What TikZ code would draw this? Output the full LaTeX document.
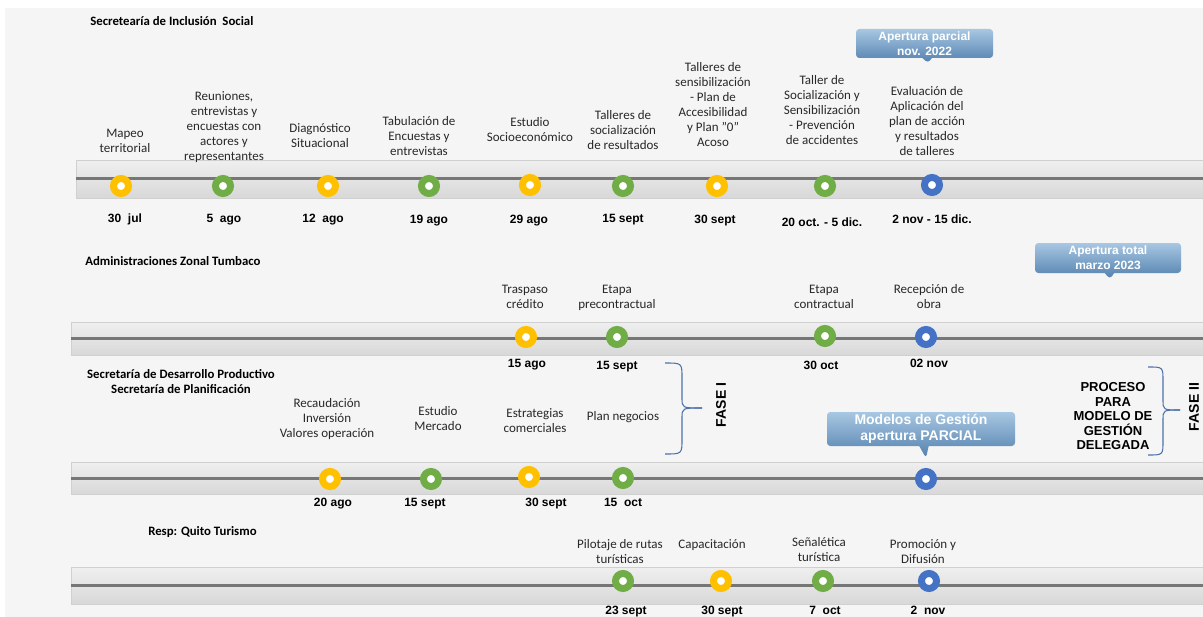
\documentclass[tikz,border=0pt]{standalone}
\usepackage{fontspec}
\setmainfont{Carlito}
\newfontfamily\arialf{Liberation Sans}
\definecolor{bgc}{RGB}{245,245,245}
\definecolor{bandtop}{RGB}{239,239,239}
\definecolor{bandbot}{RGB}{216,216,216}
\definecolor{bandedge}{RGB}{208,208,208}
\definecolor{linec}{RGB}{118,118,118}
\definecolor{yel}{RGB}{255,192,0}
\definecolor{grn}{RGB}{112,173,71}
\definecolor{blu}{RGB}{68,114,196}
\definecolor{cltop}{RGB}{168,199,226}
\definecolor{clbot}{RGB}{82,128,174}
\definecolor{brc}{RGB}{79,114,170}
\definecolor{labtxt}{RGB}{40,40,40}
\usepackage{tikz}
\usetikzlibrary{shapes.callouts}

\begin{document}
\begin{tikzpicture}[x=0.75pt,y=-0.75pt,
      lbl/.style={font=\fontsize{9.75}{11.25}\selectfont,align=center,
                  anchor=south,inner sep=0pt,text depth=0pt,text=labtxt},
      dt/.style={font=\arialf\bfseries\fontsize{9}{10}\selectfont,
                 anchor=base,inner sep=0pt},
      ttl/.style={font=\bfseries\fontsize{9.6}{11.25}\selectfont,
                  anchor=base west,inner sep=0pt},
      ring/.style={circle,fill=white,draw=#1,line width=5.25pt,
                   minimum size=11.25pt,inner sep=0pt},
      band/.style={top color=bandtop,bottom color=bandbot,draw=bandedge,line width=0.4pt},
      tl/.style={draw=linec,line width=2.25pt},
      cl/.style={rectangle callout,top color=cltop,bottom color=clbot,
                 rounded corners=2.5pt,inner sep=0pt,text=white,align=center,
                 font=\arialf\bfseries\fontsize{9}{11.25}\selectfont},
      brc/.style={draw=brc,line width=0.8pt},
      fase/.style={rotate=90,font=\arialf\bfseries\fontsize{10.5}{12}\selectfont,inner sep=0pt}]
  \useasboundingbox (0,0) rectangle (1203,617);
  \fill[white] (0,0) rectangle (1203,617);
  \fill[bgc] (5,8) rectangle (1203,617);

  % bands
  \path[band] (76,160) rectangle (1204,198);
  \draw[tl] (76,178) -- (1204,178);
  \path[band] (71,322) rectangle (1204,355);
  \draw[tl] (71,338) -- (1204,338);
  \path[band] (71,462) rectangle (1204,494);
  \draw[tl] (71,478) -- (1204,478);
  \path[band] (71,567) rectangle (1204,604);
  \draw[tl] (71,585) -- (1204,585);

  % Secretaria de Inclusion Social
  \node[ttl] (t1) at (90,26) {Secretearía de Inclusión\ \ Social};
  \node[lbl] (l11) at (125,153) {Mapeo\\territorial};
  \node[lbl] (l12) at (224,161) {Reuniones,\\entrevistas y\\encuestas con\\actores y\\representantes};
  \node[lbl] (l13) at (320,148) {Diagnóstico\\Situacional};
  \node[lbl] (l14) at (419,156) {Tabulación de\\Encuestas y\\entrevistas};
  \node[lbl] (l15) at (530,142) {Estudio\\Socioeconómico};
  \node[lbl] (l16) at (623,150) {Talleres de\\socialización\\de resultados};
  \node[lbl] (l17) at (713,147) {Talleres de\\sensibilización\\- Plan de\\Accesibilidad\\y Plan "0"\\Acoso};
  \node[lbl] (l18) at (822,145) {Taller de\\Socialización y\\Sensibilización\\- Prevención\\de accidentes};
  \node[lbl] (l19) at (927,156) {Evaluación de\\Aplicación del\\plan de acción\\y resultados\\de talleres};
  \node[ring=yel] (c11) at (121,186) {};
  \node[ring=grn] (c12) at (223,186) {};
  \node[ring=yel] (c13) at (328,186) {};
  \node[ring=grn] (c14) at (429,186) {};
  \node[ring=yel] (c15) at (530,185) {};
  \node[ring=grn] (c16) at (623,186) {};
  \node[ring=yel] (c17) at (717,186) {};
  \node[ring=grn] (c18) at (825,186) {};
  \node[ring=blu] (c19) at (932,185) {};
  \node[dt] (d11) at (125,222) {30\ \ jul};
  \node[dt] (d12) at (224,222) {5\ \ ago};
  \node[dt] (d13) at (323,222) {12\ \ ago};
  \node[dt] (d14) at (429,223) {19 ago};
  \node[dt] (d15) at (529,223) {29 ago};
  \node[dt] (d16) at (623,222) {15 sept};
  \node[dt] (d17) at (715,223) {30 sept};
  \node[dt] (d18) at (822,226) {20 oct. - 5 dic.};
  \node[dt] (d19) at (932,223) {2 nov - 15 dic.};
  \node[cl,minimum width=102.75pt,minimum height=21.75pt,
        callout absolute pointer={(928,63)}] (ap1) at (924.5,43.5) {Apertura parcial\\nov. 2022};

  % Administraciones Zonal Tumbaco
  \node[ttl] (t2) at (85,265) {Administraciones Zonal Tumbaco};
  \node[lbl] (l21) at (525,309) {Traspaso\\crédito};
  \node[lbl] (l22) at (617,309) {Etapa\\precontractual};
  \node[lbl] (l23) at (824,309) {Etapa\\contractual};
  \node[lbl] (l24) at (929,309) {Recepción de\\obra};
  \node[ring=yel] (c21) at (526,337) {};
  \node[ring=grn] (c22) at (617,337) {};
  \node[ring=grn] (c23) at (825,336) {};
  \node[ring=blu] (c24) at (926,337) {};
  \node[dt] (d21) at (527,367) {15 ago};
  \node[dt] (d22) at (617,369) {15 sept};
  \node[dt] (d23) at (821,369) {30 oct};
  \node[dt] (d24) at (929,367) {02 nov};
  \node[cl,minimum width=109.5pt,minimum height=22.5pt,
        callout absolute pointer={(1110,279)}] (ap2) at (1108,258) {Apertura total\\marzo 2023};

  % Desarrollo Productivo / Planificacion
  \node[ttl,anchor=south,align=center] (t3) at (181,394)
       {Secretaría de Desarrollo Productivo\\Secretaría de Planificación};
  \node[lbl] (l31) at (327,438) {Recaudación\\Inversión\\Valores operación};
  \node[lbl] (l32) at (438,431) {Estudio\\Mercado};
  \node[lbl] (l33) at (535,433) {Estrategias\\comerciales};
  \node[lbl] (l34) at (623,421) {Plan negocios};
  \node[ring=yel] (c31) at (330,479) {};
  \node[ring=grn] (c32) at (431,479) {};
  \node[ring=yel] (c33) at (529,477) {};
  \node[ring=grn] (c34) at (623,478) {};
  \node[ring=blu] (c35) at (926,479) {};
  \node[dt] (d31) at (333,506) {20 ago};
  \node[dt] (d32) at (425,506) {15 sept};
  \node[dt] (d33) at (546,506) {30 sept};
  \node[dt] (d34) at (623,506) {15\ \ oct};
  \node[cl,minimum width=141pt,minimum height=25.5pt,
        font=\arialf\bfseries\fontsize{10.5}{12}\selectfont,
        callout absolute pointer={(926,458)}] (ap3) at (921,429) {Modelos de Gestión\\apertura PARCIAL};
  \draw[brc] (665,363) .. controls (682,363) .. (682,378) -- (682,398)
             .. controls (682,408) .. (702,408);
  \draw[brc] (665,454) .. controls (682,454) .. (682,439) -- (682,418)
             .. controls (682,408) .. (702,408);
  \node[fase] (f1) at (721,405) {FASE I};
  \node[align=center,anchor=south,inner sep=0pt,
        font=\arialf\bfseries\fontsize{9.75}{10.9}\selectfont] (pr) at (1113,450)
       {PROCESO\\PARA\\MODELO DE\\GESTIÓN\\DELEGADA};
  \draw[brc] (1148,367) .. controls (1163,367) .. (1163,381) -- (1163,400)
             .. controls (1163,410) .. (1180,410);
  \draw[brc] (1148,455) .. controls (1163,455) .. (1163,441) -- (1163,420)
             .. controls (1163,410) .. (1180,410);
  \node[fase] (f2) at (1194,407) {FASE II};

  % Quito Turismo
  \node[ttl] (t4) at (148,535) {Resp: Quito Turismo};
  \node[lbl] (l41) at (620,564) {Pilotaje de rutas\\turísticas};
  \node[lbl] (l42) at (712,549) {Capacitación};
  \node[lbl] (l43) at (819,562) {Señalética\\turística};
  \node[lbl] (l44) at (923,564) {Promoción y\\Difusión};
  \node[ring=grn] (c41) at (623,581) {};
  \node[ring=yel] (c42) at (721,581) {};
  \node[ring=grn] (c43) at (823,581) {};
  \node[ring=blu] (c44) at (929,581) {};
  \node[dt] (d41) at (626,614) {23 sept};
  \node[dt] (d42) at (722,614) {30 sept};
  \node[dt] (d43) at (825,614) {7\ \ oct};
  \node[dt] (d44) at (928,614) {2\ \ nov};
\end{tikzpicture}
\end{document}
